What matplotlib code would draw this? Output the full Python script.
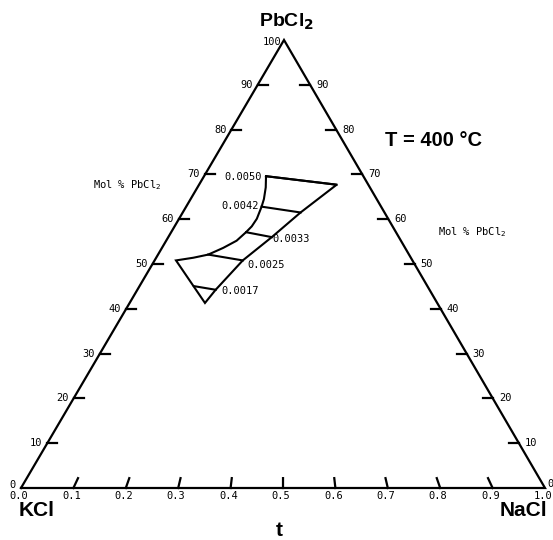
import numpy as np
import matplotlib
matplotlib.use("Agg")
import matplotlib.pyplot as plt

# composition of each tie line end: t = NaCl/(NaCl+KCl), mol % PbCl2
tie_labels = ["0.0050", "0.0042", "0.0033", "0.0025", "0.0017"]
tie_left_t = [0.389, 0.387, 0.333, 0.200, 0.189]
tie_left_pct = [69.6, 62.8, 57.1, 52.1, 45.06]
tie_right_t = [0.813, 0.584, 0.449, 0.342, 0.268]
tie_right_pct = [67.7, 61.5, 56.0, 50.8, 44.25]

# curved left boundary, top to bottom
left_t = [0.389, 0.396, 0.394, 0.387, 0.372, 0.354, 0.333, 0.300, 0.252, 0.200, 0.146, 0.083]
left_pct = [69.6, 67.1, 64.5, 62.8, 60.1, 58.4, 57.1, 55.2, 53.6, 52.1, 51.4, 50.8]

# right boundary, top to bottom (last point is the lower tip)
right_t = [0.813, 0.584, 0.449, 0.342, 0.268, 0.245]
right_pct = [67.7, 61.5, 56.0, 50.8, 44.25, 41.3]

side_ticks = [10, 20, 30, 40, 50, 60, 70, 80, 90]
side_labels = [0, 10, 20, 30, 40, 50, 60, 70, 80, 90]
base_ticks = [0.1, 0.2, 0.3, 0.4, 0.5, 0.6, 0.7, 0.8, 0.9]
base_labels = [0.0, 0.1, 0.2, 0.3, 0.4, 0.5, 0.6, 0.7, 0.8, 0.9, 1.0]

W, H = 553, 540
KCL = (21, 488)
NACL = (545, 488)
PBCL2 = (284, 40)

MONO = "DejaVu Sans Mono"
BOLD = "Liberation Sans"


def to_xy(t, pct):
    t = np.asarray(t, dtype=float)
    f = np.asarray(pct, dtype=float) / 100.0
    bx = KCL[0] + t * (NACL[0] - KCL[0])
    by = KCL[1] + t * (NACL[1] - KCL[1])
    return (1 - f) * bx + f * PBCL2[0], (1 - f) * by + f * PBCL2[1]


fig = plt.figure(figsize=(W / 100, H / 100), dpi=100)
ax = fig.add_axes([0, 0, 1, 1])
ax.set_xlim(0, W)
ax.set_ylim(H, 0)
ax.axis("off")

lw = 1.6
# triangle
ax.plot([KCL[0], NACL[0], PBCL2[0], KCL[0]], [KCL[1], NACL[1], PBCL2[1], KCL[1]],
        color="black", lw=lw, solid_joinstyle="miter")

# side ticks
for p in side_ticks:
    x, y = to_xy(0, p)
    ax.plot([x, x + 10], [y, y], color="black", lw=lw)
    x, y = to_xy(1, p)
    ax.plot([x - 10, x], [y, y], color="black", lw=lw)

for p in side_labels:
    x, y = to_xy(0, p)
    ax.text(x - 5, y - (3 if p == 0 else 0), str(p), ha="right", va="center",
            family=MONO, fontsize=7.5)
    x, y = to_xy(1, p)
    ax.text(x + (2 if p == 0 else 6), y - (4 if p == 0 else 0), str(p), ha="left",
            va="center", family=MONO, fontsize=7.5)
ax.text(PBCL2[0] - 3, PBCL2[1] + 2, "100", ha="right", va="center", family=MONO, fontsize=7.5)

# base ticks point at the PbCl2 corner
for t in base_ticks:
    x, y = to_xy([t, t], [0, 2.2])
    ax.plot(x, y, color="black", lw=lw)
for t in base_labels:
    x, y = to_xy(t, 0)
    ax.text(x - 2, y + 8, f"{t:.1f}", ha="center", va="center", family=MONO, fontsize=7.5)

# outline of the region
ox = list(left_t) + list(right_t[::-1]) + [left_t[0]]
oy = list(left_pct) + list(right_pct[::-1]) + [left_pct[0]]
px, py = to_xy(ox, oy)
ax.plot(px, py, color="black", lw=1.5, solid_joinstyle="miter")

# tie lines
offsets = [(-4, -1, "right"), (-3, 1, "right"), (1, -2, "left"), (5, -5, "left"), (6, -1, "left")]
for i, lab in enumerate(tie_labels):
    x, y = to_xy([tie_left_t[i], tie_right_t[i]], [tie_left_pct[i], tie_right_pct[i]])
    ax.plot(x, y, color="black", lw=1.5)
    dx, dy, ha = offsets[i]
    anchor = (x[0], y[0]) if ha == "right" else (x[1], y[1])
    ax.annotate(lab, anchor, xytext=(dx, dy), textcoords="offset pixels",
                ha=ha, va="center", family=MONO, fontsize=7.5)

# titles
ax.text(286, 22, r"PbCl$_\mathbf{2}$", ha="center", va="center", family=BOLD,
        fontweight="bold", fontsize=14)
ax.text(19, 511, "KCl", ha="left", va="center", family=BOLD, fontweight="bold", fontsize=15)
ax.text(547, 511, "NaCl", ha="right", va="center", family=BOLD, fontweight="bold", fontsize=15)
ax.text(279, 530, "t", ha="center", va="center", family=BOLD, fontweight="bold", fontsize=15)
ax.text(385, 140, "T = 400 °C", ha="left", va="center", family=BOLD, fontweight="bold", fontsize=14.5)
ax.text(93, 185, r"Mol % PbCl$_2$", ha="left", va="center", family=MONO, fontsize=7.5)
ax.text(438, 232, r"Mol % PbCl$_2$", ha="left", va="center", family=MONO, fontsize=7.5)

fig.savefig("out.png", dpi=100, facecolor="white")
